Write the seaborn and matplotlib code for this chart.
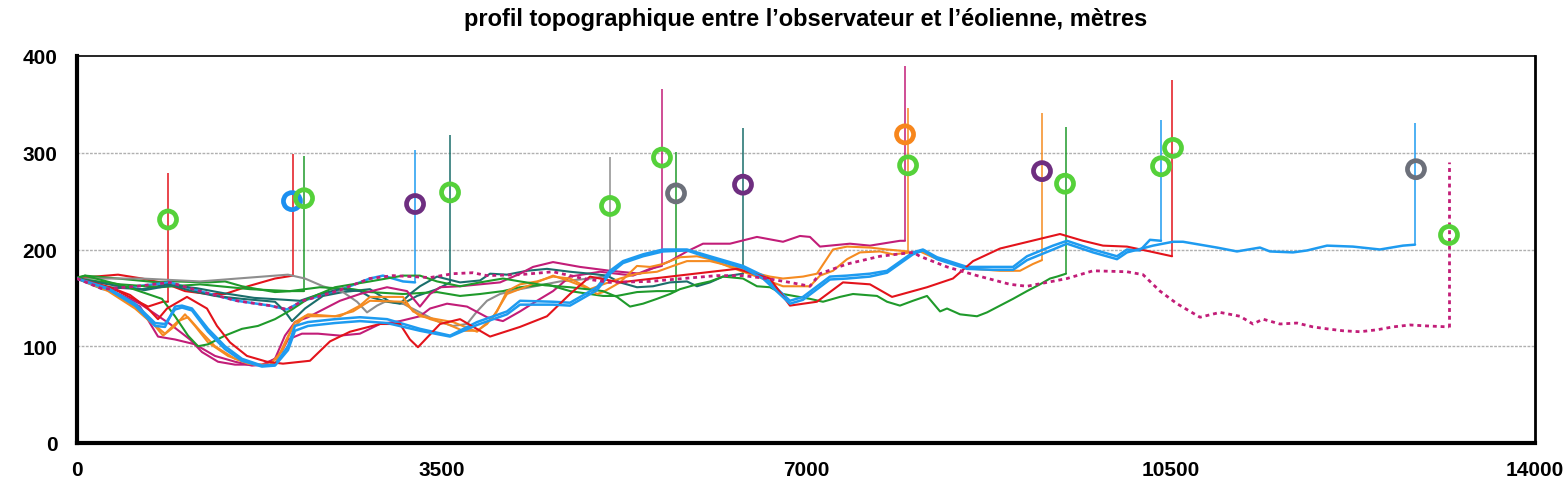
import matplotlib
matplotlib.use("Agg")
import matplotlib.pyplot as plt
import seaborn as sns
import pandas as pd

# ---------------- data (distance m, altitude m) ----------------
p01 = [(0,170),(394,157),(682,141),(826,146),(874,146)]
p02 = [(0,170),(173,172),(394,174),(624,170),(845,165),(1037,157),(1258,154),(1421,154),(1642,162),(1901,170),(2074,173)]
p03 = [(0,171),(77,173),(394,170),(778,166),(941,167),(1258,166),(1421,167),(1584,162),(1738,159),(1901,156),(2064,157),(2180,157)]
p04 = [(0,170),(250,159),(576,162),(893,166),(1210,156),(1536,147),(1853,142),(2016,138),(2170,147),(2497,157),(2813,170),(2938,173),(3130,167),(3246,166)]
p05 = [(0,170),(298,161),(624,159),(874,164),(1104,157),(1325,152),(1584,149),(1901,146),(1997,136),(2064,126),(2189,139),(2362,152),(2554,156),(2813,159),(3005,146),(3130,144),(3265,152),(3457,159),(3582,166)]
p06 = [(0,170),(624,170),(1181,167),(1661,171),(2026,174),(2189,170),(2362,162),(2554,156),(2689,146),(2785,135),(2881,142),(2977,147),(3130,144),(3293,135),(3457,126),(3610,121),(3745,123),(3841,136),(3937,147),(4062,154),(4254,159),(4638,167),(4926,170),(5118,173)]
p07 = [(0,170),(317,157),(605,141),(778,110),(941,107),(1133,102),(1325,90),(1517,84),(1680,80),(1805,81),(1901,87),(1968,95),(2026,107),(2160,113),(2314,113),(2525,111),(2717,113),(2909,123),(3101,126),(3293,131),(3390,139),(3553,144),(3745,141),(3937,130),(4090,126),(4254,136),(4417,147),(4571,157),(4734,172),(5022,177),(5339,173),(5502,180),(5617,183)]
p08 = [(0,170),(413,164),(797,161),(1181,164),(1661,159),(2045,157),(2333,161),(2650,159),(2813,156),(3130,154),(3457,156),(3678,152),(3870,154),(4090,157),(4254,161),(4513,164),(4734,157),(5051,152),(5185,152),(5377,156),(5569,157),(5752,157)]
p09 = [(0,170),(300,164),(650,158),(900,163),(1150,160),(1400,155),(1700,150),(2000,148),(2141,147),(2333,154),(2525,159),(2717,157),(2813,151),(2977,146),(3101,144),(3197,154),(3293,162),(3457,172),(3678,166),(3870,168),(3966,175),(4129,174),(4321,178),(4513,180),(4734,177),(4926,175),(5089,173),(5214,166),(5377,161),(5531,162),(5694,166),(5857,167),(5953,162),(6078,166),(6203,172),(6395,175)]
p10 = [(0,170),(298,159),(605,144),(893,123),(1085,107),(1200,94),(1354,84),(1517,81),(1776,81),(1901,87),(1997,111),(2093,125),(2218,130),(2525,147),(2717,154),(2977,161),(3169,157),(3293,141),(3390,154),(3486,161),(3678,162),(4062,166),(4254,175),(4379,182),(4571,187),(4830,182),(5118,178),(5406,175),(5694,188),(5857,198),(6011,206),(6270,206),(6529,213),(6779,208),(6942,214),(7038,213),(7134,203),(7422,206),(7614,204),(7902,209),(7951,209)]
p11 = [(0,170),(298,157),(557,139),(749,121),(826,111),(941,121),(1037,133),(1133,121),(1258,104),(1450,90),(1642,82),(1805,80),(1901,82),(1997,104),(2093,125),(2218,133),(2477,131),(2650,136),(2813,147),(3130,146),(3293,131),(3610,125),(3841,115),(3995,130),(4129,154),(4321,162),(4571,173),(4734,167),(4926,159),(5051,164),(5214,170),(5377,175),(5569,177),(5723,183),(5857,188),(6078,188),(6270,183),(6462,177),(6654,172),(6779,170),(6971,172),(7105,175),(7259,200),(7394,203),(7614,202),(7778,200),(7980,198)]
p12 = [(0,170),(298,158),(557,141),(701,126),(845,113),(970,126),(1066,130),(1181,116),(1325,100),(1517,87),(1709,81),(1853,81),(1968,95),(2064,118),(2189,131),(2525,131),(2717,142),(2813,151),(3130,151),(3226,136),(3390,128),(3553,123),(3706,116),(3841,116),(3937,123),(4033,136),(4129,157),(4254,164),(4417,167),(4571,172),(4734,170),(4897,161),(4993,154),(5051,156),(5214,166),(5377,183),(5502,182),(5627,185),(5790,192),(5953,193),(6078,190),(6241,183),(6395,177),(6529,172),(6654,167),(6779,162),(7038,162),(7134,173),(7259,178),(7394,190),(7518,197),(7710,198),(7835,195),(8094,198),(8219,192),(8354,187),(8604,180),(8863,178),(9055,178),(9179,185),(9266,189)]
p13 = [(0,170),(77,173),(461,162),(816,149),(941,131),(1066,111),(1162,100),(1258,102),(1421,111),(1584,118),(1738,121),(1901,128),(2064,138),(2218,149),(2477,161),(2813,167),(3130,173),(3293,173),(3457,167),(3678,162),(3870,166),(4090,170),(4254,167),(4494,163),(4734,161),(5051,157),(5185,151),(5310,141),(5435,144),(5569,149),(5694,154),(5790,159),(5953,164),(6078,167),(6203,172),(6395,170),(6529,162),(6654,161),(6779,154),(7038,149),(7163,146),(7326,151),(7451,154),(7682,152),(7778,146),(7902,142),(8027,147),(8162,152),(8287,136),(8354,139),(8479,133),(8642,131),(8738,135),(8863,142),(8988,149),(9122,157),(9247,164),(9343,170),(9410,172),(9497,175)]
p14 = [(0,170),(298,159),(557,142),(749,121),(845,120),(941,141),(1008,142),(1104,139),(1258,118),(1421,100),(1584,87),(1776,80),(1901,81),(2026,100),(2093,121),(2218,125),(2477,128),(2717,130),(2977,128),(3293,118),(3582,111),(3841,125),(4129,136),(4254,147),(4571,146),(4734,145),(4993,161),(5118,178),(5243,188),(5435,195),(5627,200),(5857,200),(6078,193),(6395,183),(6587,173),(6846,147),(6971,151),(7230,172),(7394,173),(7614,175),(7778,178),(8027,197),(8123,200),(8258,192),(8546,182),(8796,182),(8988,182),(9122,193),(9372,204),(9506,209),(9756,200),(9986,193),(10082,200),(10207,199),(10303,210),(10409,209)]
p15 = [(0,170),(317,161),(509,153),(682,139),(778,128),(864,139),(1056,151),(1248,139),(1344,121),(1469,104),(1632,90),(1824,84),(1978,82),(2237,85),(2429,105),(2621,115),(2909,123),(3101,123),(3197,107),(3274,99),(3486,123),(3678,128),(3966,110),(4254,120),(4513,131),(4734,154),(4926,172),(5214,166),(5694,172),(6174,178),(6337,180),(6654,170),(6846,142),(7105,146),(7355,166),(7614,164),(7826,151),(8162,161),(8411,170),(8604,188),(8863,201),(9247,211),(9439,216),(9660,209),(9852,204),(10082,203),(10303,198),(10515,193)]
p16 = [(0,170),(298,160),(557,144),(749,124),(845,123),(941,138),(1008,140),(1104,137),(1258,115),(1421,97),(1584,85),(1776,79),(1901,80),(2026,96),(2093,116),(2218,121),(2477,124),(2717,126),(2977,124),(3293,116),(3582,110),(3841,122),(4129,133),(4254,143),(4571,143),(4734,142),(4993,158),(5118,175),(5243,186),(5435,193),(5627,198),(5857,199),(6078,191),(6395,181),(6587,170),(6846,144),(6971,148),(7230,169),(7394,170),(7614,172),(7778,176),(8027,195),(8123,199),(8258,190),(8546,180),(8796,179),(8988,179),(9122,189),(9372,200),(9506,206),(9756,197),(9986,190),(10082,197),(10332,204),(10524,208),(10620,208),(10783,205),(10946,202),(11138,198),(11359,202),(11455,198),(11676,197),(11811,199),(12003,204),(12252,203),(12511,200),(12732,204),(12848,205)]
p17 = [(0,170),(250,159),(576,162),(893,166),(1210,156),(1536,147),(1853,142),(2016,138),(2170,147),(2497,157),(2813,170),(3034,173),(3390,171),(3610,175),(3802,176),(3937,173),(4254,174),(4571,177),(4859,170),(5118,166),(5502,167),(5819,170),(6145,173),(6395,173),(6625,170),(6846,166),(7038,162),(7134,175),(7394,185),(7710,193),(8027,197),(8094,193),(8354,182),(8642,173),(8959,164),(9122,162),(9314,166),(9506,170),(9756,178),(10082,177),(10236,174),(10399,157),(10562,144),(10783,130),(10975,135),(11167,131),(11292,123),(11388,128),(11551,123),(11714,124),(11868,120),(12003,118),(12156,116),(12319,115),(12482,117),(12636,120),(12799,122),(12962,121),(13174,120)]

profiles = [p01, p02, p03, p04, p05, p06, p07, p08, p09, p10, p11, p12, p13, p14, p15, p16, p17]
turbine_tops = [279, 299, 297, 303, 318, 296, 366, 301, 326, 390, 346, 341, 327, 334, 375, 331, 290]
RED, GREEN, BLUE, TEAL, GRAY, MAG, ORANGE = "#e3131b", "#1f9a2b", "#1e9bf0", "#1a6e6b", "#8e8e8e", "#c21d78", "#f58b21"
profile_colors = [RED, RED, GREEN, BLUE, TEAL, GRAY, MAG, GREEN, TEAL, MAG, ORANGE, ORANGE, GREEN, BLUE, RED, BLUE, MAG]
profile_dotted = [False]*16 + [True]

circle_dist = [874, 2064, 2180, 3246, 3582, 5118, 5617, 5752, 6395, 7951, 7980, 9266, 9487, 10409, 10524, 12857, 13174]
circle_alt = [231, 250, 253, 247, 259, 245, 295, 258, 267, 319, 287, 281, 268, 286, 305, 283, 215]
circle_kind = ["vert", "bleu", "vert", "violet", "vert", "vert", "vert", "gris", "violet", "orange", "vert", "violet", "vert", "vert", "vert", "gris", "vert"]
circle_palette = {"vert": "#55d13a", "bleu": "#1b8ff0", "violet": "#6e2e80", "gris": "#6c707a", "orange": "#f7861c"}

x_ticks = [0, 3500, 7000, 10500, 14000]
y_ticks = [0, 100, 200, 300, 400]
title = "profil topographique entre l\u2019observateur et l\u2019\u00e9olienne, m\u00e8tres"

# ---------------- style ----------------
sns.set_theme(style="white")
plt.rcParams["font.family"] = ["Liberation Sans", "DejaVu Sans"]
plt.rcParams["font.weight"] = "bold"
plt.rcParams["text.color"] = "black"
plt.rcParams["xtick.color"] = "black"
plt.rcParams["ytick.color"] = "black"

fig = plt.figure(figsize=(15.67, 4.89), dpi=100)
ax = fig.add_axes([77/1567, 1-444/489, (1535-77)/1567, (444-57)/489])

for pts, col, top, dotted in zip(profiles, profile_colors, turbine_tops, profile_dotted):
    df = pd.DataFrame(pts, columns=["distance", "altitude"])
    ls = (0, (1.4, 1.4)) if dotted else "-"
    lw = 2.0 if dotted else (1.8 if col == BLUE else 1.5)
    sns.lineplot(data=df, x="distance", y="altitude", sort=False, estimator=None,
                 color=col, linewidth=lw, linestyle=ls, ax=ax, zorder=3)
    end_d, end_a = pts[-1]
    ax.vlines(end_d, end_a, top, color=col, linewidth=2.0 if dotted else 1.1,
              linestyles=ls, zorder=3)

cdf = pd.DataFrame({"distance": circle_dist, "altitude": circle_alt, "kind": circle_kind})
sns.scatterplot(data=cdf, x="distance", y="altitude", hue="kind", palette=circle_palette,
                s=150, linewidth=3.4, legend=False, ax=ax, zorder=5)
coll = ax.collections[-1]
fcs = coll.get_facecolors()
coll.set_edgecolors(fcs)
coll.set_facecolors("none")

ax.set_xlim(0, 14000)
ax.set_ylim(0, 400)
ax.set_xticks(x_ticks)
ax.set_yticks(y_ticks)
ax.set_xticklabels([str(v) for v in x_ticks])
ax.set_yticklabels([str(v) for v in y_ticks])
ax.set_xlabel("")
ax.set_ylabel("")
for yv in y_ticks[1:4]:
    ax.axhline(yv, color="#b0b0b0", linewidth=1.0, linestyle=(0, (2, 1)), zorder=1)

ax.tick_params(axis="x", direction="in", length=6, width=2, color="black", pad=12,
               labelsize=15, labelcolor="black")
ax.tick_params(axis="y", length=0, pad=14, labelsize=15, labelcolor="black")
for lab in ax.get_xticklabels() + ax.get_yticklabels():
    lab.set_fontweight("bold")

for side, lw in [("left", 3), ("bottom", 3), ("right", 2), ("top", 1.2)]:
    ax.spines[side].set_visible(True)
    ax.spines[side].set_color("black")
    ax.spines[side].set_linewidth(lw)

ax.set_title(title, fontsize=17, fontweight="bold", pad=22, color="black")

fig.savefig("out.png", dpi=100)
